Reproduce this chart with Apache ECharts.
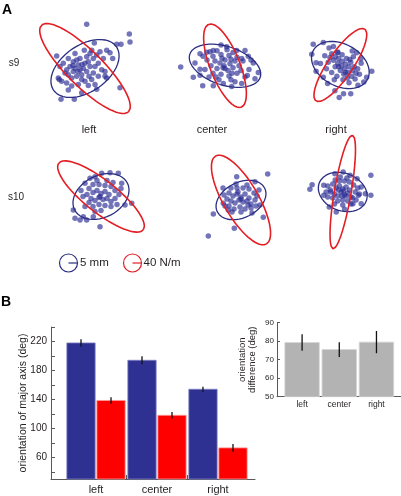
<!DOCTYPE html>
<html><head><meta charset="utf-8">
<script src="https://cdn.jsdelivr.net/npm/echarts@6/dist/echarts.min.js"></script>
<style>html,body{margin:0;padding:0;background:#fff}#c{width:401px;height:496px}</style>
</head><body><div id="c"></div>
<script>
// ---------- DATA ----------
const categories = ['left', 'center', 'right'];
const rowNames = ['s9', 's10'];
// Panel B: orientation of major axis (deg)
const orientPosition = [218, 194, 154];
const orientPositionErr = [5, 5.5, 3.5];
const orientStiffness = [138.5, 118, 73];
const orientStiffnessErr = [4.5, 4.5, 5.5];
// Inset: orientation difference (deg)
const diffValues = [79.3, 75.5, 79.5];
const diffErr = [4.5, 4, 6];
const mainTicks = [40, 60, 80, 100, 120, 140, 160, 180, 200, 220, 240];
const mainTickLabels = [60, 100, 140, 180, 220];
const insetTickLabels = [50, 60, 70, 80, 90];
// Panel A ellipses [semi-major, semi-minor, angle deg]
const ellipsePosition = [[38.5, 23.6, 36], [37.3, 20.4, -20], [35, 23, -24], [29.6, 20.9, 27], [26.5, 17.6, 26.6], [29.8, 19, -13]];
const ellipseStiffness = [[62, 18, -45.5], [47, 15, -70], [47.7, 14, 53.6], [53.8, 16, -38.3], [50.8, 17.5, -60], [57.9, 10, 78.3]];
// Panel A endpoints, relative to each panel centre
const ptsS9Left = [[1.7,45.3],[44.3,35.3],[45,27],[36,24.7],[31.7,24.7],[9.3,26],[25,16],[-28.3,12.7],[27.7,10.3],[-25.7,-11.3],[-24,-31.3],[-10.7,-31.3],[-16.7,-22],[35,-19.7],[20,-3],[21.7,-9.7],[3.3,-17.3],[11.7,-21.3],[-3.3,-24.7],
 [21.7,18.7],[15,17],[6.7,18.7],[-0.7,18.7],[-10,15.3],[-16.7,10.3],[-21.7,5.3],[-25,2],[-20,-4.7],[-23.3,-13],[-18.3,-14.7],[-13.3,-18],[-6.7,-16.3],[0,-13],[6.7,-11.3],[13.3,-8],[16.7,-1.3],[13.3,5.3],[8.3,10.3],[1.7,12],[-5,10.3],[-11.7,7],[-15,2],[-11.7,-3],[-8.3,-8],[-3.3,-6.3],[1.7,-3],[5,2],[0,5.3],[-6.7,3.7],[-10,0.3],[-5,-1.3],[-1.7,0.3],[3.3,7],[10,2],[8.3,-4.7],[-3.3,-11.3],[-13.3,-9.7],[-16.7,-6.3],[-8.3,8.7],[18.3,10.3],[20,-8],[10,-16.3],[-26.7,-9.7],[-18.3,-1.3],[5,15.3],[11.7,13.7],[-7,-3],[-12,3],[-3,4],[4,-8]];
const ptsS9Center = [[-44.3,-1.2],[-31.7,-12.2],[-22.3,-21.2],[-11.7,-21.2],[-4,22.2],[1.7,20.2],[20,16.2],[23.3,10.2],[28.3,2.8],[33.3,-7.2],[30,-13.8],[22.3,-10.5],[16.7,-18.8],[6.7,-22.2],[-1.7,-18.8],[-25,-3.8],[-30,2.8],[-25,12.8],[-18.3,14.5],[-11.7,16.2],[11.7,16.2],[16.7,7.8],
 [-10,5],[-5,3],[0,6],[5,2],[-2,-2],[-8,-3],[3,-5],[8,-2],[10,5],[-14,0],[-12,-8],[-4,-9],[4,-11],[12,-8],[14,0],[12,9],[4,11],[-4,12],[-12,10],[-18,6],[-20,-4],[-16,-12],[-6,-15],[6,-15],[16,-5],[18,5],[8,14],[-8,16],[0,-3],[-3,8],[6,7],[-9,-12],[20,-12],[-22,10],[24,-4],[2,17],[-15,15],[10,-17],[-25,-10],[26,6],[-1,0],[7,-8]];
const ptsS9Right = [[-31.3,22.3],[-19.7,24.3],[-33,11.7],[-28,2.3],[-23,1.7],[-28,-6.7],[36.3,-6.7],[30.3,-13.3],[27,-18.3],[20.3,-21.7],[12,-31],[3.7,-31],[-1.3,-35],[-6.3,-27.7],[-14.7,-20],[-19.7,-13.3],[18.7,13.3],[13.7,15],[23.7,6.7],[-13,18.3],[-8,20],[-3,13.3],
 [-10,12],[-6,9],[-2,7],[2,4],[6,1],[10,-2],[14,-6],[18,-9],[-8,5],[-3,2],[1,-1],[5,-4],[9,-8],[13,-12],[-12,8],[-14,3],[-6,-2],[0,-6],[4,-10],[8,-14],[16,-2],[12,3],[7,7],[2,11],[-3,14],[20,-4],[-16,-4],[-10,-8],[-4,-12],[3,-16],[10,-19],[17,-15],[22,-10],[-18,10],[-2,-2],[6,-8],[11,6],[-7,-16],[15,9],[24,2]];
const ptsS10Left = [[-1,-30.2],[0.7,23.2],[9,23.8],[17.3,23.2],[20.7,13.2],[30.7,-6.8],[24,-8.5],[-27.7,-13.5],[-26,-21.8],[-21,-23.5],[-17.7,-20.2],[-14.3,-23.5],[-7.7,-20.2],[-16,13.2],[-11,18.2],[-6,19.8],
 [-8,4],[-4,6],[0,3],[4,5],[8,2],[-10,-2],[-6,-4],[-2,-1],[2,-3],[6,-2],[10,-5],[-12,8],[-14,2],[-12,-6],[-8,-10],[-2,-8],[4,-9],[10,-10],[14,-2],[14,6],[10,10],[4,11],[-2,12],[-8,12],[-16,-10],[-18,0],[18,2],[16,-8],[-20,6],[0,-14],[6,16],[-4,16],[-1,0],[12,14],[-6,-15],[20,8]];
const ptsS10Center = [[-4.3,23.3],[26.7,26],[-27.7,-14],[-32.7,-36],[-6.7,-28.3],[22.3,-17.3],[14,18.3],[-12.7,-10],[-17.7,-3.3],[19,-5],
 [-8,4],[-4,6],[0,3],[4,6],[8,2],[-10,-1],[-6,-3],[-2,0],[2,-2],[6,-1],[10,-4],[-12,7],[-14,1],[-12,-6],[-7,-9],[-1,-7],[4,-9],[10,-8],[14,0],[13,7],[8,11],[2,12],[-4,12],[-10,12],[-16,-6],[-17,5],[16,4],[15,-6],[0,-12],[6,15],[-5,16],[0,1],[-3,8],[7,-5],[-9,-12],[11,-13],[18,10],[-18,12]];
const ptsS10Right = [[33.8,16.7],[-39.5,2.7],[-36.8,7.3],[33.8,-3.3],[27.2,-1.7],[22.2,-11.7],[2.2,-17.3],[-7.8,-20],[-16.2,-15],[-22.8,-3.3],[-22.8,6.7],[0.5,20],[-9.5,18.3],[8.8,16.7],[17.2,13.3],[22.2,5],[18.8,-3.3],[12.2,-11.7],[-14.5,0],
 [-8,4],[-4,6],[0,3],[4,5],[8,2],[-10,-2],[-6,-4],[-2,0],[2,-3],[6,-1],[10,-5],[-12,8],[-15,2],[-12,-6],[-6,-9],[0,-8],[6,-9],[12,-6],[15,0],[13,7],[8,10],[2,11],[-4,11],[-9,12],[-18,-5],[-18,6],[18,4],[16,-8],[0,-13],[5,14],[-3,15],[1,1],[-1,-4],[4,-4],[-5,2],[20,-2],[-20,0],[10,-12],[-10,-12]];
const panelPoints = [ptsS9Left, ptsS9Center, ptsS9Right, ptsS10Left, ptsS10Center, ptsS10Right];

// ---------- LAYOUT ----------
const panelCentres = [[85, 67], [225, 61.5], [349.7, 60], [101, 196.5], [241, 200], [354.5, 192]];
const HALF = 70;
const FONT = 'Liberation Sans, Arial, sans-serif';
const BLUE = '#2E3192', RED = '#FF0000', AX = '#58595B', TXT = '#231F20';

function ellipsePts(p) {
  const a = p[0], b = p[1], th = p[2] * Math.PI / 180, out = [];
  for (let k = 0; k <= 96; k++) {
    const t = k / 96 * 2 * Math.PI;
    out.push([a * Math.cos(th) * Math.cos(t) - b * Math.sin(th) * Math.sin(t),
              a * Math.sin(th) * Math.cos(t) + b * Math.cos(th) * Math.sin(t)]);
  }
  return out;
}

const grid = [], xAxis = [], yAxis = [], series = [];
panelCentres.forEach((c, i) => {
  grid.push({left: c[0] - HALF, top: c[1] - HALF, width: 2 * HALF, height: 2 * HALF});
  xAxis.push({type: 'value', gridIndex: i, min: -HALF, max: HALF, show: false});
  yAxis.push({type: 'value', gridIndex: i, min: -HALF, max: HALF, show: false});
  series.push({type: 'scatter', xAxisIndex: i, yAxisIndex: i, data: panelPoints[i], symbolSize: 5.5,
    itemStyle: {color: 'rgba(42,45,148,0.82)'}, silent: true, z: 2});
  series.push({type: 'line', xAxisIndex: i, yAxisIndex: i, data: ellipsePts(ellipsePosition[i]), showSymbol: false,
    lineStyle: {color: '#2B2E83', width: 1.3}, silent: true, z: 3, clip: false});
  series.push({type: 'line', xAxisIndex: i, yAxisIndex: i, data: ellipsePts(ellipseStiffness[i]), showSymbol: false,
    lineStyle: {color: '#E31E24', width: 1.6}, silent: true, z: 4, clip: false});
});

// Main bar chart (grid 6)
const MAIN_MIN = 30;
grid.push({left: 51, top: 327, width: 204, height: 152});
xAxis.push({type: 'value', gridIndex: 6, min: 0.262, max: 3.607,
  axisLine: {show: true, lineStyle: {color: AX, width: 1}},
  axisTick: {show: true, inside: true, length: 4, customValues: [1.5, 2.5], lineStyle: {color: AX}},
  axisLabel: {show: true, customValues: [1, 2, 3], formatter: v => categories[Math.round(v) - 1] || '',
    fontSize: 11, fontFamily: FONT, color: TXT, margin: 5},
  splitLine: {show: false}});
yAxis.push({type: 'value', gridIndex: 6, min: MAIN_MIN, max: 240,
  name: 'orientation of major axis (deg)', nameLocation: 'middle', nameGap: 22.5, nameMoveOverlap: false,
  nameTextStyle: {fontSize: 10.5, fontFamily: FONT, color: TXT},
  axisLine: {show: true, lineStyle: {color: AX, width: 1}},
  axisTick: {show: true, inside: true, length: 4, customValues: mainTicks, lineStyle: {color: AX}},
  axisLabel: {show: true, customValues: mainTickLabels, fontSize: 10, fontFamily: FONT, color: TXT, margin: 4},
  splitLine: {show: false}});

function barSeries(xi, vals, errs, offset, widthUnits, base, fill, stroke) {
  return {
    type: 'custom', xAxisIndex: xi, yAxisIndex: xi, silent: true, z: 5,
    data: vals.map((v, k) => [k + 1, v, errs[k]]),
    renderItem: function (params, api) {
      const x = api.value(0) + offset, v = api.value(1), e = api.value(2);
      const top = api.coord([x, v]), bot = api.coord([x, base]);
      const w = api.size([widthUnits, 0])[0];
      return {type: 'group', children: [
        {type: 'rect', shape: {x: top[0] - w / 2, y: top[1], width: w, height: bot[1] - top[1]},
          style: {fill: fill, stroke: stroke, lineWidth: 0.8}},
        {type: 'line', shape: {x1: top[0], y1: api.coord([x, v + e])[1], x2: top[0], y2: api.coord([x, v - e])[1]},
          style: {stroke: '#111', lineWidth: 1.3}}
      ]};
    }
  };
}
series.push(barSeries(6, orientPosition, orientPositionErr, -0.246, 0.464, MAIN_MIN, BLUE, '#7F82C2'));
series.push(barSeries(6, orientStiffness, orientStiffnessErr, 0.246, 0.464, MAIN_MIN, RED, '#FF9A9A'));

// Inset (grid 7)
grid.push({left: 277, top: 322.7, width: 126, height: 74});
xAxis.push({type: 'value', gridIndex: 7, min: 0.325, max: 3.66,
  axisLine: {show: true, lineStyle: {color: AX, width: 1}},
  axisTick: {show: false},
  axisLabel: {show: true, customValues: [1, 2, 3], formatter: v => categories[Math.round(v) - 1] || '',
    fontSize: 8.5, fontFamily: FONT, color: TXT, margin: 3},
  splitLine: {show: false}});
yAxis.push({type: 'value', gridIndex: 7, min: 50, max: 90, interval: 10,
  name: 'orientation\ndifference (deg)', nameLocation: 'middle', nameGap: 19.5, nameMoveOverlap: false,
  nameTextStyle: {fontSize: 9.5, fontFamily: FONT, color: TXT, lineHeight: 10},
  axisLine: {show: true, lineStyle: {color: AX, width: 1}},
  axisTick: {show: true, inside: true, length: 3, lineStyle: {color: AX}},
  axisLabel: {show: true, customValues: insetTickLabels, fontSize: 8, fontFamily: FONT, color: TXT, margin: 3},
  splitLine: {show: false}});
series.push(barSeries(7, diffValues, diffErr, 0, 0.927, 50, '#B3B3B3', '#D6D6D6'));

// Text and legend glyphs
const T = (text, x, y, size, opts) => Object.assign({type: 'text', x: x, y: y, silent: true,
  style: {text: text, fontSize: size, fontFamily: FONT, fill: TXT, align: 'center', verticalAlign: 'middle'}}, opts || {});
const graphic = [
  T('A', 7, 10, 14, {style: {text: 'A', fontSize: 14, fontWeight: 'bold', fontFamily: FONT, fill: '#000', align: 'center', verticalAlign: 'middle'}}),
  T('B', 6, 302, 14, {style: {text: 'B', fontSize: 14, fontWeight: 'bold', fontFamily: FONT, fill: '#000', align: 'center', verticalAlign: 'middle'}}),
  T(rowNames[0], 14, 63, 10),
  T(rowNames[1], 16, 197, 10),
  T(categories[0], 89, 130, 11),
  T(categories[1], 212, 130, 11),
  T(categories[2], 336, 130, 11),
  {type: 'circle', shape: {cx: 68.5, cy: 263, r: 9}, style: {fill: 'none', stroke: '#2B2E83', lineWidth: 1.2}, silent: true},
  {type: 'line', shape: {x1: 68.5, y1: 263, x2: 77.5, y2: 263}, style: {stroke: '#2B2E83', lineWidth: 1.2}, silent: true},
  {type: 'text', x: 80, y: 263, silent: true, style: {text: '5 mm', fontSize: 11.5, fontFamily: FONT, fill: TXT, align: 'left', verticalAlign: 'middle'}},
  {type: 'circle', shape: {cx: 132.5, cy: 263, r: 9}, style: {fill: 'none', stroke: '#E31E24', lineWidth: 1.2}, silent: true},
  {type: 'line', shape: {x1: 132.5, y1: 263, x2: 141.5, y2: 263}, style: {stroke: '#E31E24', lineWidth: 1.2}, silent: true},
  {type: 'text', x: 143.5, y: 263, silent: true, style: {text: '40 N/m', fontSize: 11.5, fontFamily: FONT, fill: TXT, align: 'left', verticalAlign: 'middle'}}
];

const chart = echarts.init(document.getElementById('c'), null, {renderer: 'canvas'});
chart.setOption({animation: false, backgroundColor: '#fff', grid, xAxis, yAxis, series, graphic});
</script></body></html>
